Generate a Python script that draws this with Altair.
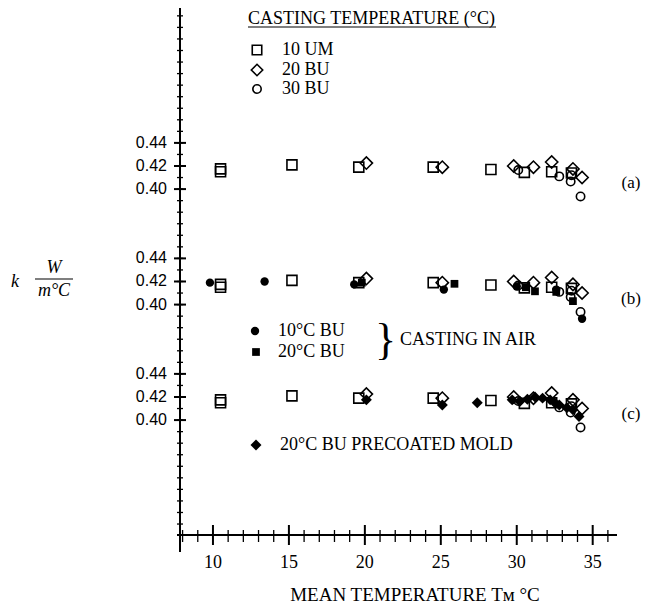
import altair as alt
import pandas as pd

# ---------------- data ----------------
# open symbols: casting temperature series (repeated in panels a, b, c)
um10_x = [10.5, 10.5, 15.2, 19.6, 24.5, 28.3, 30.5, 32.3, 33.6]
um10_k = [0.4175, 0.4150, 0.4210, 0.4190, 0.4190, 0.4170, 0.4145, 0.4150, 0.4140]
bu20_x = [20.1, 25.1, 29.8, 31.1, 32.3, 33.7, 34.3]
bu20_k = [0.4225, 0.4190, 0.4200, 0.4190, 0.4235, 0.4175, 0.4100]
bu30_x = [30.1, 32.8, 33.6, 33.55, 34.2]
bu30_k = [0.4165, 0.4110, 0.4120, 0.4065, 0.3936]

# panel b: casting in air
air10_x = [9.8, 13.4, 19.3, 25.2, 30.0, 32.6, 34.3]
air10_k = [0.4190, 0.4200, 0.4175, 0.4130, 0.4157, 0.4130, 0.3877]
air20_x = [19.8, 25.9, 30.6, 31.2, 32.6, 33.7]
air20_k = [0.4190, 0.4180, 0.4150, 0.4115, 0.4110, 0.4030]

# panel c: precoated mold
pre_x = [20.1, 25.1, 27.4, 29.7, 30.2, 30.7, 31.2, 31.7, 32.2, 32.5, 32.8, 33.3, 33.7, 34.1]
pre_k = [0.4175, 0.4130, 0.4150, 0.4175, 0.4160, 0.4180, 0.4200, 0.4190, 0.4175,
         0.4150, 0.4130, 0.4106, 0.4090, 0.4030]

panels = ["a", "b", "c"]
panel_offset = {"a": 0.2, "b": 0.1, "c": 0.0}
panel_labels = ["(a)", "(b)", "(c)"]

x_major = [10, 15, 20, 25, 30, 35]
x_minor = [8, 9, 11, 12, 13, 14, 16, 17, 18, 19, 21, 22, 23, 24, 26, 27, 28, 29,
           31, 32, 33, 34, 36]
k_labels = ["0.44", "0.42", "0.40"]
k_values = [0.44, 0.42, 0.40]

# ---------------- helpers ----------------
xs = alt.Scale(domain=[7.83, 36.6], nice=False, zero=False)
ys = alt.Scale(domain=[0.3005, 0.7568], nice=False, zero=False)
X = lambda f="x": alt.X(f"{f}:Q", scale=xs, axis=None)
Y = lambda f="y": alt.Y(f"{f}:Q", scale=ys, axis=None)
SERIF = "Liberation Serif"
SANS = "Liberation Sans"


def rows(xv, kv, pnl):
    return pd.DataFrame([{"x": a, "y": b + panel_offset[p]} for p in pnl for a, b in zip(xv, kv)])


def pts(df, shape, filled, size):
    return alt.Chart(df).mark_point(
        shape=shape, filled=filled, size=size, color="black",
        strokeWidth=1.6, opacity=1
    ).encode(x=X(), y=Y())


def label(text, px, py, size=18, font=SERIF, align="left", **kw):
    return alt.Chart(pd.DataFrame({"t": [text]})).mark_text(
        font=font, fontSize=size, align=align, baseline="middle", color="black", **kw
    ).encode(x=alt.value(px), y=alt.value(py), text="t:N")


def sym(shape, filled, size, px, py):
    return alt.Chart(pd.DataFrame({"t": [0]})).mark_point(
        shape=shape, filled=filled, size=size, color="black", strokeWidth=1.6, opacity=1
    ).encode(x=alt.value(px), y=alt.value(py))


H = 527
layers = []

# axes lines
one = pd.DataFrame({"t": [0]})
layers.append(alt.Chart(one).mark_rule(color="black", strokeWidth=2).encode(
    x=alt.value(0), y=alt.value(0), y2=alt.value(H + 17)))
layers.append(alt.Chart(one).mark_rule(color="black", strokeWidth=2).encode(
    x=alt.value(-3), x2=alt.value(437), y=alt.value(H)))

# x ticks
layers.append(alt.Chart(pd.DataFrame({"x": x_minor})).mark_rule(color="black", strokeWidth=1.3).encode(
    x=X(), y=alt.value(H - 5), y2=alt.value(H + 7)))
layers.append(alt.Chart(pd.DataFrame({"x": x_major})).mark_rule(color="black", strokeWidth=2).encode(
    x=X(), y=alt.value(H - 10), y2=alt.value(H + 10)))
layers.append(alt.Chart(pd.DataFrame({"x": x_major, "t": [str(v) for v in x_major]})).mark_text(
    font=SERIF, fontSize=18, baseline="middle", color="black").encode(
    x=X(), y=alt.value(H + 28), text="t:N"))

# y ticks
y_minor = [round(0.31 + 0.01 * i, 2) for i in range(45)]
layers.append(alt.Chart(pd.DataFrame({"y": y_minor})).mark_rule(color="black", strokeWidth=1.3).encode(
    y=Y(), x=alt.value(-3), x2=alt.value(3)))
ylab = pd.DataFrame([{"y": v + panel_offset[p], "t": t} for p in panels for v, t in zip(k_values, k_labels)])
layers.append(alt.Chart(ylab).mark_rule(color="black", strokeWidth=2).encode(
    y=Y(), x=alt.value(-6), x2=alt.value(6)))
layers.append(alt.Chart(ylab).mark_text(font=SANS, fontSize=16, align="right", baseline="middle",
                                        color="black").encode(y=Y(), x=alt.value(-13), text="t:N"))

# panel labels
plab = pd.DataFrame({"y": [0.405 + panel_offset[p] for p in panels], "t": panel_labels})
layers.append(alt.Chart(plab).mark_text(font=SERIF, fontSize=17, align="center", baseline="middle",
                                        color="black").encode(y=Y(), x=alt.value(451), text="t:N"))

# data marks
layers.append(pts(rows(um10_x, um10_k, panels), "square", False, 100))
layers.append(pts(rows(bu20_x, bu20_k, panels), "diamond", False, 150))
layers.append(pts(rows(bu30_x, bu30_k, panels), "circle", False, 70))
layers.append(pts(rows(air10_x, air10_k, ["b"]), "circle", True, 70))
layers.append(pts(rows(air20_x, air20_k, ["b"]), "square", True, 60))
layers.append(pts(rows(pre_x, pre_k, ["c"]), "diamond", True, 120))

# legend (top)
layers.append(label("CASTING TEMPERATURE (°C)", 68, 11))
layers.append(alt.Chart(one).mark_rule(color="black", strokeWidth=1.2).encode(
    x=alt.value(68), x2=alt.value(316), y=alt.value(19)))
layers.append(sym("square", False, 90, 77, 42))
layers.append(label("10 UM", 102, 42))
layers.append(sym("diamond", False, 130, 77, 62))
layers.append(label("20 BU", 102, 62))
layers.append(sym("circle", False, 70, 77, 81))
layers.append(label("30 BU", 102, 81))

# legend (middle)
layers.append(sym("circle", True, 70, 75, 323))
layers.append(label("10°C BU", 98, 323))
layers.append(sym("square", True, 60, 76, 344))
layers.append(label("20°C BU", 98, 344))
layers.append(label("}", 195, 333, size=44))
layers.append(label("CASTING IN AIR", 220, 332))

# legend (bottom)
layers.append(sym("diamond", True, 120, 76, 437))
layers.append(label("20°C BU PRECOATED MOLD", 100, 437))

# y title: k  W / m°C
layers.append(label("k", -165, 274, size=18, fontStyle="italic", align="center"))
layers.append(label("W", -126, 260, size=18, fontStyle="italic", align="center"))
layers.append(alt.Chart(one).mark_rule(color="black", strokeWidth=1.2).encode(
    x=alt.value(-145), x2=alt.value(-107), y=alt.value(271)))
layers.append(label("m°C", -126, 283, size=18, fontStyle="italic", align="center"))

# x title
layers.append(label("MEAN TEMPERATURE Tм °C", 235, 587, size=19, align="center"))

chart = alt.layer(*layers).properties(
    width=437, height=H,
    padding={"left": 172, "top": 0, "right": 24, "bottom": 72},
    autosize=alt.AutoSizeParams(type="none"),
).configure_view(stroke=None)

chart.save("out.html", embed_options={"renderer": "svg", "actions": False})
